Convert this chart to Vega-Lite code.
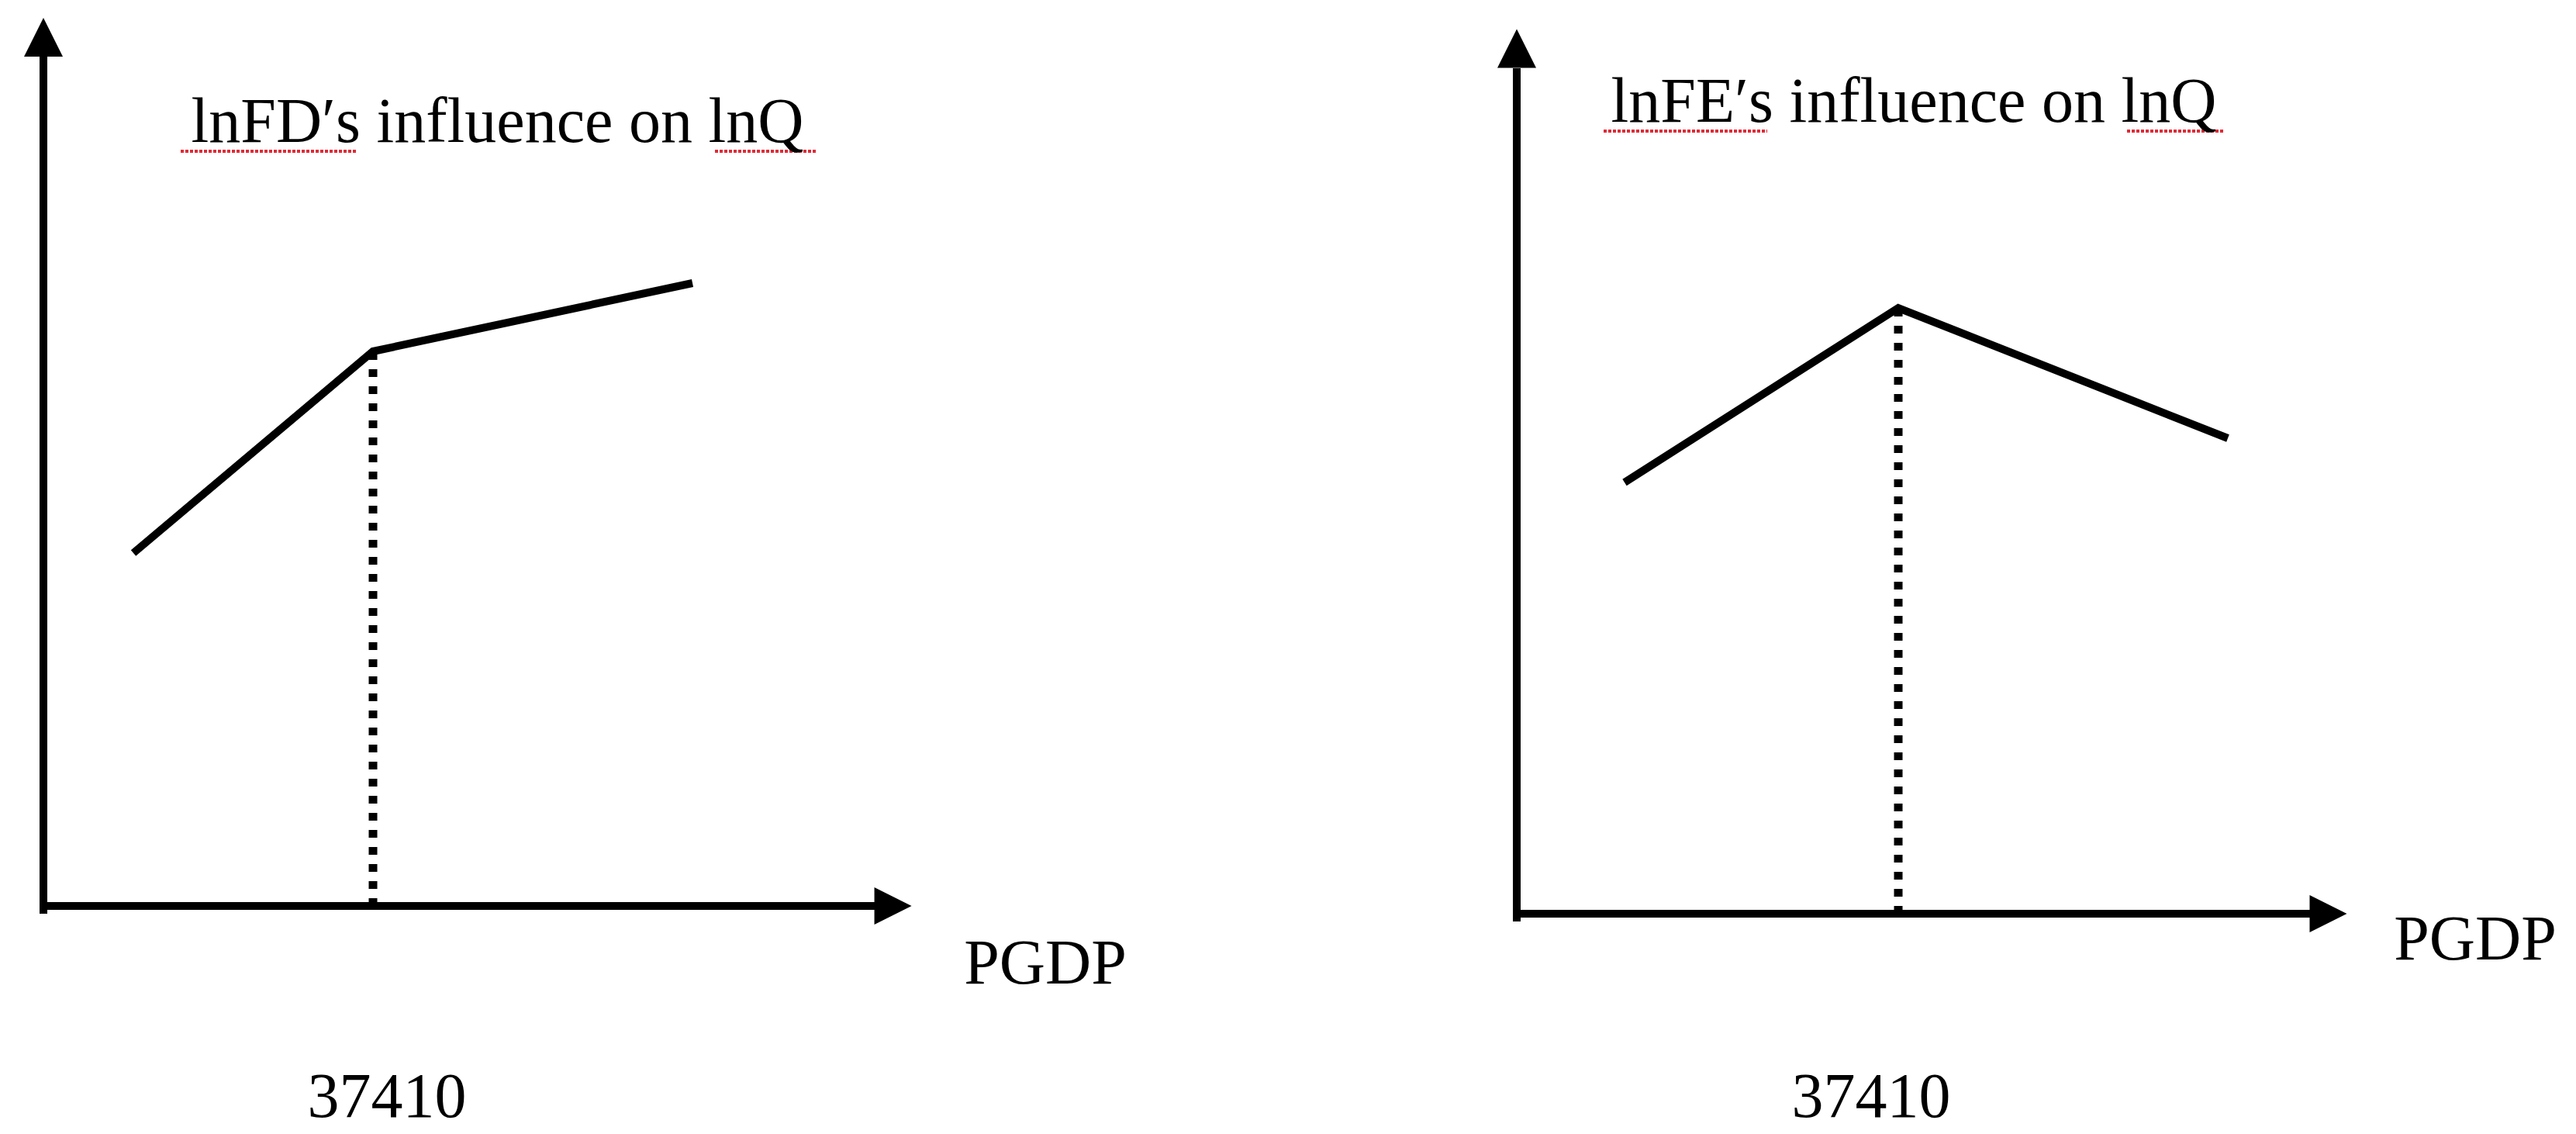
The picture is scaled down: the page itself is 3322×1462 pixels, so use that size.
{
  "$schema": "https://vega.github.io/schema/vega-lite/v6.json",
  "background": "white",
  "padding": 0,
  "spacing": 0,
  "config": {"view": {"stroke": null}},
  "hconcat": [
    {
      "width": 1650,
      "height": 1462,
      "encoding": {
        "x": {"field": "pgdp", "type": "quantitative", "scale": {"domain": [-4929, 140305], "nice": false, "zero": false}, "axis": null},
        "y": {"field": "q", "type": "quantitative", "scale": {"domain": [-29.4, 116.8], "nice": false, "zero": false}, "axis": null}
      },
      "layer": [
        {
          "data": {"values": [{"pgdp": 0, "q": -1, "pgdp_end": 0, "q_end": 109.5}, {"pgdp": 0, "q": 0, "pgdp_end": 94361, "q_end": 0}]},
          "mark": {"type": "rule", "color": "black", "strokeWidth": 10, "strokeCap": "butt"},
          "encoding": {"x2": {"field": "pgdp_end"}, "y2": {"field": "q_end"}}
        },
        {
          "data": {"values": [{"pgdp": 0, "q": 112}]},
          "mark": {"type": "point", "shape": "M0,-1L1,1L-1,1Z", "size": 2500, "filled": true, "color": "black", "opacity": 1, "strokeWidth": 0}
        },
        {
          "data": {"values": [{"pgdp": 96430, "q": 0}]},
          "mark": {"type": "point", "shape": "M1,0L-1,-1L-1,1Z", "size": 2304, "filled": true, "color": "black", "opacity": 1, "strokeWidth": 0}
        },
        {
          "data": {"values": [{"pgdp": 10211, "q": 45.5}, {"pgdp": 37410, "q": 71.5}, {"pgdp": 73676, "q": 80.3}]},
          "mark": {"type": "line", "color": "black", "strokeWidth": 10, "strokeCap": "butt", "strokeJoin": "miter"}
        },
        {
          "data": {"values": [{"pgdp": 37410, "q": 0, "q_end": 71.5}]},
          "mark": {"type": "rule", "color": "black", "strokeWidth": 11, "strokeDash": [10, 12], "strokeCap": "butt"},
          "encoding": {"y2": {"field": "q_end"}}
        },
        {
          "data": {"values": [{"pgdp": 15580, "pgdp_end": 35473, "q": 97.3}, {"pgdp": 76228, "pgdp_end": 87671, "q": 97.3}]},
          "mark": {"type": "rule", "color": "#e02a36", "strokeWidth": 4, "strokeDash": [4, 2]},
          "encoding": {"x2": {"field": "pgdp_end"}}
        },
        {
          "data": {"values": [
            {"pgdp": 51537, "q": 98.5, "label": "lnFD′s influence on lnQ"},
            {"pgdp": 113726, "q": -10, "label": "PGDP"},
            {"pgdp": 38995, "q": -27.2, "label": "37410"}
          ]},
          "mark": {"type": "text", "font": "Liberation Serif", "fontSize": 82, "align": "center", "baseline": "alphabetic", "color": "black"},
          "encoding": {"text": {"field": "label"}}
        }
      ]
    },
    {
      "width": 1672,
      "height": 1462,
      "encoding": {
        "x": {"field": "pgdp", "type": "quantitative", "scale": {"domain": [-23267, 103863], "nice": false, "zero": false}, "axis": null},
        "y": {"field": "q", "type": "quantitative", "scale": {"domain": [-28.4, 117.8], "nice": false, "zero": false}, "axis": null}
      },
      "layer": [
        {
          "data": {"values": [{"pgdp": 0, "q": -1, "pgdp_end": 0, "q_end": 109.0}, {"pgdp": 0, "q": 0, "pgdp_end": 77783, "q_end": 0}]},
          "mark": {"type": "rule", "color": "black", "strokeWidth": 10, "strokeCap": "butt"},
          "encoding": {"x2": {"field": "pgdp_end"}, "y2": {"field": "q_end"}}
        },
        {
          "data": {"values": [{"pgdp": 0, "q": 111.55}]},
          "mark": {"type": "point", "shape": "M0,-1L1,1L-1,1Z", "size": 2500, "filled": true, "color": "black", "opacity": 1, "strokeWidth": 0}
        },
        {
          "data": {"values": [{"pgdp": 79570, "q": 0}]},
          "mark": {"type": "point", "shape": "M1,0L-1,-1L-1,1Z", "size": 2304, "filled": true, "color": "black", "opacity": 1, "strokeWidth": 0}
        },
        {
          "data": {"values": [{"pgdp": 10569, "q": 55.6}, {"pgdp": 37410, "q": 78.1}, {"pgdp": 69723, "q": 61.3}]},
          "mark": {"type": "line", "color": "black", "strokeWidth": 10, "strokeCap": "butt", "strokeJoin": "miter"}
        },
        {
          "data": {"values": [{"pgdp": 37410, "q": 0, "q_end": 78.1}]},
          "mark": {"type": "rule", "color": "black", "strokeWidth": 11, "strokeDash": [10, 12], "strokeCap": "butt"},
          "encoding": {"y2": {"field": "q_end"}}
        },
        {
          "data": {"values": [{"pgdp": 8516, "pgdp_end": 24559, "q": 100.9}, {"pgdp": 59839, "pgdp_end": 69343, "q": 100.9}]},
          "mark": {"type": "rule", "color": "#e02a36", "strokeWidth": 4, "strokeDash": [4, 2]},
          "encoding": {"x2": {"field": "pgdp_end"}}
        },
        {
          "data": {"values": [
            {"pgdp": 38929, "q": 102.1, "label": "lnFE′s influence on lnQ"},
            {"pgdp": 93978, "q": -5.9, "label": "PGDP"},
            {"pgdp": 34748, "q": -26.2, "label": "37410"}
          ]},
          "mark": {"type": "text", "font": "Liberation Serif", "fontSize": 82, "align": "center", "baseline": "alphabetic", "color": "black"},
          "encoding": {"text": {"field": "label"}}
        }
      ]
    }
  ]
}
